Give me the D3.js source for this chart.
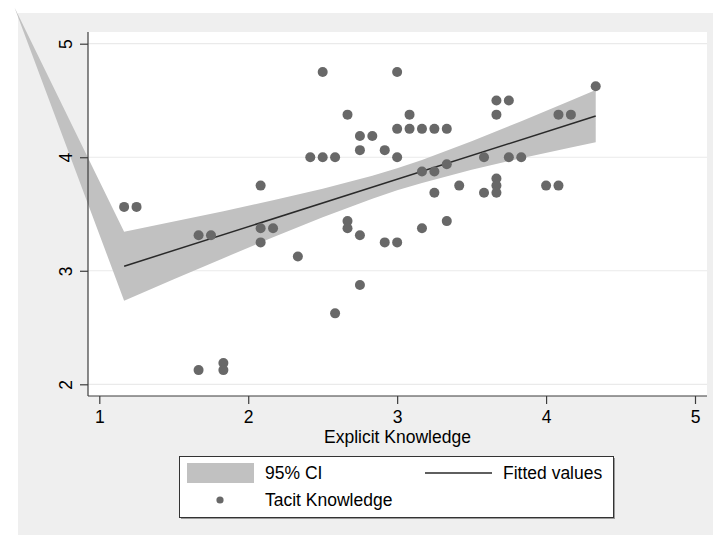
<!DOCTYPE html>
<html>
<head>
<meta charset="utf-8">
<script src="https://cdn.jsdelivr.net/npm/d3@7"></script>
<style>
  html, body { margin: 0; padding: 0; background: #ffffff; }
  svg { display: block; font-family: "Liberation Sans", Arial, Helvetica, sans-serif; }
</style>
</head>
<body>
<script>
// ---------- data ----------
const explicitKnowledge = [
  1.1667, 1.25, 1.6667, 1.75, 1.6667, 1.8333, 1.8333, 2.0833, 2.0833, 2.0833,
  2.1667, 2.3333, 2.4167, 2.5, 2.5833, 2.5, 2.5833, 2.6667, 2.6667, 2.6667,
  2.75, 2.75, 2.75, 2.75, 2.8333, 2.9167, 2.9167, 3.0, 3.0, 3.0,
  3.0, 3.0833, 3.0833, 3.1667, 3.1667, 3.1667, 3.25, 3.25, 3.25, 3.3333,
  3.3333, 3.3333, 3.4167, 3.5833, 3.5833, 3.6667, 3.6667, 3.6667, 3.6667, 3.6667,
  3.75, 3.75, 3.8333, 4.0, 4.0833, 4.0833, 4.1667, 4.3333
];
const tacitKnowledge = [
  3.5625, 3.5625, 3.3125, 3.3125, 2.125, 2.1875, 2.125, 3.75, 3.375, 3.25,
  3.375, 3.125, 4.0, 4.0, 4.0, 4.75, 2.625, 4.375, 3.4375, 3.375,
  4.1875, 4.0625, 3.3125, 2.875, 4.1875, 4.0625, 3.25, 4.75, 4.25, 4.0,
  3.25, 4.375, 4.25, 4.25, 3.875, 3.375, 4.25, 3.875, 3.6875, 4.25,
  3.9375, 3.4375, 3.75, 4.0, 3.6875, 4.5, 4.375, 3.8125, 3.75, 3.6875,
  4.5, 4.0, 4.0, 3.75, 3.75, 4.375, 4.375, 4.625
];
// fitted values (straight line, end points)
const fitX = [1.1667, 4.3333];
const fitY = [3.040, 4.363];
// 95% CI band (first entry is the odd degenerate point seen at top left)
const ciX     = [0.43, 1.1667, 1.5, 1.8333, 2.1667, 2.5, 2.8333, 3.0, 3.1667, 3.5, 3.8333, 4.1667, 4.3333];
const ciLower = [5.32, 2.737, 2.925, 3.111, 3.295, 3.472, 3.635, 3.709, 3.774, 3.890, 3.991, 4.086, 4.133];
const ciUpper = [5.32, 3.343, 3.433, 3.525, 3.621, 3.722, 3.837, 3.904, 3.976, 4.140, 4.317, 4.500, 4.593];
// axes
const xTicks = [1, 2, 3, 4, 5];
const yTicks = [2, 3, 4, 5];
const xTitle = "Explicit Knowledge";
const legendLabels = ["95% CI", "Fitted values", "Tacit Knowledge"];

// ---------- layout ----------
const W = 713, H = 535;
const plot = { left: 88, top: 32, right: 707, bottom: 396 };
const FONT = 17.5;

const svg = d3.select("body").append("svg").attr("width", W).attr("height", H);

// graph region
svg.append("rect").attr("x", 18).attr("y", 13).attr("width", W - 18).attr("height", H - 13)
  .attr("fill", "#efefef");
// plot region
svg.append("rect").attr("x", plot.left).attr("y", plot.top)
  .attr("width", plot.right - plot.left).attr("height", plot.bottom - plot.top)
  .attr("fill", "#ffffff");

const x = d3.scaleLinear().domain([1, 5]).range([99.3, 695]);
const y = d3.scaleLinear().domain([2, 5]).range([384.3, 43.7]);

// gridlines
svg.append("g").selectAll("line").data(yTicks).join("line")
  .attr("x1", plot.left).attr("x2", plot.right)
  .attr("y1", d => y(d)).attr("y2", d => y(d))
  .attr("stroke", "#eaeaea").attr("stroke-width", 1.2);

// CI band
const ci = ciX.map((v, i) => ({ x: v, lo: ciLower[i], hi: ciUpper[i] }));
svg.append("path").datum(ci)
  .attr("d", d3.area().x(d => x(d.x)).y0(d => y(d.lo)).y1(d => y(d.hi)))
  .attr("fill", "#c1c1c1");

// fitted line
const fit = fitX.map((v, i) => ({ x: v, y: fitY[i] }));
svg.append("path").datum(fit)
  .attr("d", d3.line().x(d => x(d.x)).y(d => y(d.y)))
  .attr("fill", "none").attr("stroke", "#2a2a2a").attr("stroke-width", 1.5);

// scatter
const pts = explicitKnowledge.map((v, i) => ({ x: v, y: tacitKnowledge[i] }));
svg.append("g").selectAll("circle").data(pts).join("circle")
  .attr("cx", d => x(d.x)).attr("cy", d => y(d.y)).attr("r", 5)
  .attr("fill", "#686868");

// axes lines
svg.append("line").attr("x1", plot.left).attr("x2", plot.left)
  .attr("y1", plot.top).attr("y2", plot.bottom)
  .attr("stroke", "#3c3c3c").attr("stroke-width", 1.2);
svg.append("line").attr("x1", plot.left).attr("x2", plot.right)
  .attr("y1", plot.bottom).attr("y2", plot.bottom)
  .attr("stroke", "#3c3c3c").attr("stroke-width", 1.2);

// x axis
const gx = svg.append("g").attr("transform", `translate(0,${plot.bottom})`)
  .call(d3.axisBottom(x).tickValues(xTicks).tickSize(8).tickFormat(d3.format("d")));
gx.select(".domain").remove();
gx.selectAll(".tick line").attr("stroke", "#3c3c3c").attr("stroke-width", 1.2);
gx.selectAll(".tick text").attr("y", 27).attr("dy", 0)
  .attr("font-size", FONT).attr("font-family", null).attr("fill", "#000");

// y axis
const gy = svg.append("g").attr("transform", `translate(${plot.left},0)`)
  .call(d3.axisLeft(y).tickValues(yTicks).tickSize(8).tickFormat(d3.format("d")));
gy.select(".domain").remove();
gy.selectAll(".tick line").attr("stroke", "#3c3c3c").attr("stroke-width", 1.2);
gy.selectAll(".tick text").attr("x", 0).attr("y", 0).attr("dy", 0)
  .attr("text-anchor", "middle")
  .attr("transform", "translate(-16,0) rotate(-90)")
  .attr("font-size", FONT).attr("font-family", null).attr("fill", "#000");
svg.selectAll(".tick text").style("font-family", "'Liberation Sans', Arial, sans-serif");

// x title
svg.append("text").attr("x", (plot.left + plot.right) / 2).attr("y", 443)
  .attr("text-anchor", "middle").attr("font-size", FONT).text(xTitle);

// legend
const lg = svg.append("g");
lg.append("rect").attr("x", 181).attr("y", 458).attr("width", 434).attr("height", 61)
  .attr("fill", "#9a9a9a");
lg.append("rect").attr("x", 179.5).attr("y", 456.5).attr("width", 434).attr("height", 61)
  .attr("fill", "#ffffff").attr("stroke", "#333").attr("stroke-width", 1);
lg.append("rect").attr("x", 187).attr("y", 463).attr("width", 67).attr("height", 20)
  .attr("fill", "#c1c1c1");
lg.append("text").attr("x", 265).attr("y", 479).attr("font-size", FONT).text(legendLabels[0]);
lg.append("line").attr("x1", 425).attr("x2", 492).attr("y1", 473).attr("y2", 473)
  .attr("stroke", "#2a2a2a").attr("stroke-width", 1.5);
lg.append("text").attr("x", 503).attr("y", 479).attr("font-size", FONT).text(legendLabels[1]);
lg.append("circle").attr("cx", 220).attr("cy", 500).attr("r", 3.6).attr("fill", "#686868");
lg.append("text").attr("x", 265).attr("y", 506).attr("font-size", FONT).text(legendLabels[2]);
</script>
</body>
</html>
